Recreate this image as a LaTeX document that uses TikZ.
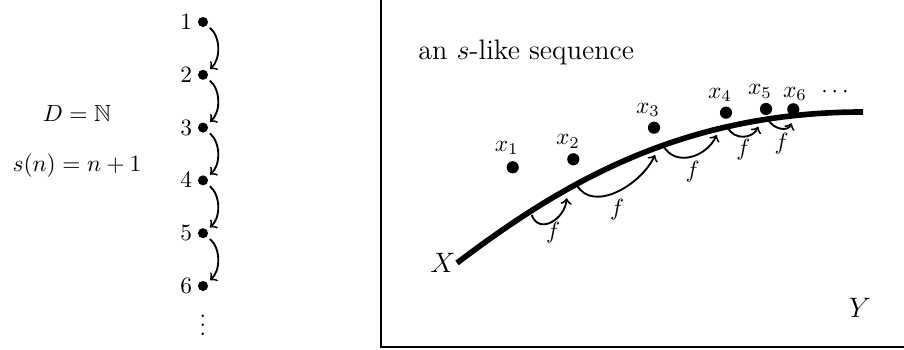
\documentclass[tikz,border=0pt]{standalone}
\usepackage{amssymb}
\begin{document}
\begin{tikzpicture}[
    x=0.15mm, y=0.15mm,
    dot/.style={circle,fill,inner sep=0pt,minimum size=4.3pt},
    bigdot/.style={circle,fill,inner sep=0pt,minimum size=5.2pt},
    succ/.style={->,thick,shorten <=1.5pt,shorten >=1.5pt,out=-40,in=40},
    fmap/.style={->,thick,out=-60,in=-115,looseness=1.15},
    curva/.style={line width=2.4pt}]

  % ---- frame of the picture and box of the right part ----------------------
  \path[use as bounding box,clip] (0,0) rectangle (904,350);
  \draw[line width=1pt] (381,3) rectangle (910,350.8);

  % ---- left: the domain and the successor map -------------------------------
  \node[anchor=base] (dom)   at (77,228.3) {$D=\mathbb{N}$};
  \node[anchor=base] (succf) at (77,178)   {$s(n)=n+1$};

  \foreach \n in {1,...,6}
    \node[dot,label={[label distance=-1.2pt]left:$\n$}] (n\n) at (203,{328-52.8*(\n-1)}) {};
  \node[anchor=base] (ndots) at (203,14) {$\vdots$};

  \foreach \n [remember=\n as \p (initially 1)] in {2,...,6}
    \draw[succ] (n\p) to (n\n);

  % ---- right: the space X in Y and the sequence -----------------------------
  \node[anchor=base west,font=\large] (title) at (410,290) {an $s$-like sequence};
  \draw[curva] (457,87) .. controls (560,165) and (680,238) .. (863,238);
  \node[anchor=base,font=\large] (lX) at (443,77) {$X$};
  \node[anchor=base,font=\large] (lY) at (860,32) {$Y$};

  \foreach \i/\px/\py/\lx/\ly in {1/512.7/182.7/506.7/202, 2/573.3/190.7/568/208.3,
      3/654/222.3/648/240, 4/726/237.3/720/255, 5/766/241/760/258.3, 6/793.3/240.7/795/256} {
    \node[bigdot] (x\i) at (\px,\py) {};
    \node (lx\i) at (\lx,\ly) {$x_\i$};
  }
  \node (ldots) at (835,257.3) {$\cdots$};

  % ---- the steps of f along X -----------------------------------------------
  \coordinate (a1) at (531.7,135);   \coordinate (b1) at (566.7,151.7);
  \coordinate (a2) at (576.7,165);   \coordinate (b2) at (655,195);
  \coordinate (a3) at (663.3,204);   \coordinate (b3) at (716.7,215);
  \coordinate (a4) at (728,221.7);   \coordinate (b4) at (758.3,223.3);
  \coordinate (a5) at (768.3,230);   \coordinate (b5) at (791.7,226.7);

  \draw[fmap,out=-70,in=-95,looseness=1.4] (a1) to (b1);
  \draw[fmap,looseness=1] (a2) to (b2);
  \draw[fmap] (a3) to (b3);
  \draw[fmap] (a4) to (b4);
  \draw[fmap,looseness=1.1] (a5) to (b5);

  \node (lf1) at (553,117)     {$f$};
  \node (lf2) at (617,140)     {$f$};
  \node (lf3) at (692.7,178.3) {$f$};
  \node (lf4) at (743.3,200)   {$f$};
  \node (lf5) at (781.7,206.7) {$f$};

\end{tikzpicture}
\end{document}
